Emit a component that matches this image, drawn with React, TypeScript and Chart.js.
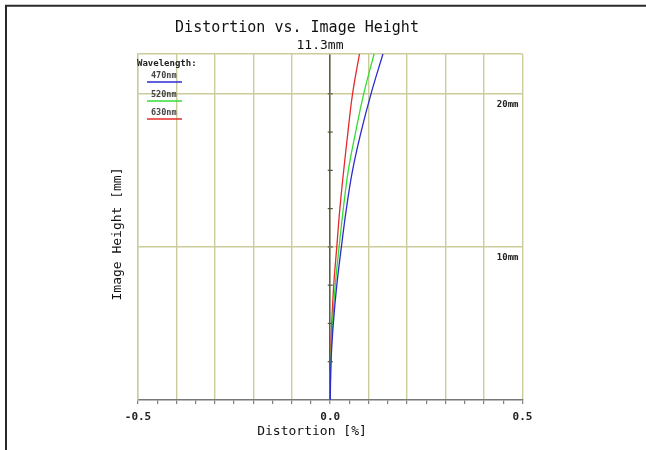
import React, { useEffect, useRef } from "react";
import { Chart, registerables } from "chart.js";

Chart.register(...registerables);

// Image heights (mm) at which distortion was read
const heights = [0, 2.5, 5, 7.5, 10, 12.5, 15, 17.5, 20, 22.6];
// Distortion (%) per wavelength
const dist470 = [0, 0.002, 0.008, 0.017, 0.029, 0.042, 0.058, 0.08, 0.106, 0.137];
const dist520 = [0, 0.0015, 0.006, 0.013, 0.023, 0.034, 0.047, 0.066, 0.087, 0.114];
const dist630 = [0, 0.001, 0.004, 0.009, 0.017, 0.025, 0.035, 0.046, 0.058, 0.076];

const wavelengths = ["470nm", "520nm", "630nm"];
const colors = ["#2b2bd0", "#33dd33", "#e42a2a"];

const xTickValues = [-0.5, 0, 0.5];
const xTickLabels = ["-0.5", "0.0", "0.5"];
const heightMarkValues = [10, 20];
const heightMarkLabels = ["10mm", "20mm"];
const zeroTickValues = [2.5, 5, 7.5, 10, 12.5, 15, 17.5, 20];

const titleText = "Distortion vs. Image Height";
const subtitleText = "11.3mm";
const xTitle = "Distortion [%]";
const yTitle = "Image Height [mm]";
const legendTitle = "Wavelength:";

const MONO = '"DejaVu Sans Mono", "Liberation Mono", monospace';
const GRID = "rgb(203,203,155)";

export default function App() {
  const ref = useRef<HTMLCanvasElement | null>(null);

  useEffect(() => {
    if (!ref.current) return;
    const series = [dist470, dist520, dist630];

    const overlay = {
      id: "overlay",
      beforeDatasetsDraw(chart: any) {
        const c = chart.ctx;
        const xs = chart.scales.x;
        const ys = chart.scales.y;
        const x0 = xs.getPixelForValue(0);
        c.save();
        c.strokeStyle = "#55553c";
        c.lineWidth = 1.2;
        zeroTickValues.forEach((v) => {
          const y = ys.getPixelForValue(v);
          c.beginPath();
          c.moveTo(x0 - 2.5, y);
          c.lineTo(x0 + 2.5, y);
          c.stroke();
        });
        c.restore();
      },
      afterDraw(chart: any) {
        const c = chart.ctx;
        const area = chart.chartArea;
        const ys = chart.scales.y;
        c.save();
        // frame
        c.strokeStyle = "#2a2a2a";
        c.lineWidth = 2;
        c.beginPath();
        c.moveTo(6, 460);
        c.lineTo(6, 5.7);
        c.lineTo(660, 5.7);
        c.stroke();

        c.fillStyle = "#111";
        c.textAlign = "center";
        c.textBaseline = "middle";
        c.font = `15px ${MONO}`;
        c.fillText(titleText, 297, 28);
        c.font = `13px ${MONO}`;
        c.fillText(subtitleText, 320, 45.5);
        c.fillText(xTitle, 312, 432);
        c.save();
        c.translate(118, 234);
        c.rotate(-Math.PI / 2);
        c.fillText(yTitle, 0, 0);
        c.restore();

        // legend
        c.textAlign = "left";
        c.font = `bold 9px ${MONO}`;
        c.fillStyle = "#222";
        c.fillText(legendTitle, 137, 64);
        c.font = `bold 8.5px ${MONO}`;
        const ly = [76, 95, 113];
        wavelengths.forEach((w, i) => {
          c.fillStyle = "#444";
          c.fillText(w, 151, ly[i]);
          c.strokeStyle = colors[i];
          c.lineWidth = 1.5;
          c.beginPath();
          c.moveTo(147, ly[i] + 6);
          c.lineTo(182, ly[i] + 6);
          c.stroke();
        });

        // height marks
        c.textAlign = "right";
        c.font = `bold 9px ${MONO}`;
        c.fillStyle = "#222";
        heightMarkValues.forEach((v, i) => {
          c.fillText(heightMarkLabels[i], area.right - 4, ys.getPixelForValue(v) + 10.5);
        });
        c.restore();
      },
    };

    const chart = new Chart(ref.current, {
      type: "scatter",
      data: {
        datasets: series.map((s, i) => ({
          label: wavelengths[i],
          data: heights.map((h, j) => ({ x: s[j], y: h })),
          showLine: true,
          borderColor: colors[i],
          borderWidth: 1.3,
          pointRadius: 0,
          tension: 0.4,
          fill: false,
        })),
      },
      options: {
        animation: false,
        responsive: false,
        devicePixelRatio: 1,
        layout: { padding: { left: 138, right: 123.5, top: 54, bottom: 18.8 } },
        plugins: {
          legend: { display: false },
          title: { display: false },
          tooltip: { enabled: false },
        },
        scales: {
          x: {
            type: "linear",
            min: -0.5,
            max: 0.5,
            afterBuildTicks(scale: any) {
              const t = [];
              for (let i = 0; i <= 20; i++) t.push({ value: -0.5 + i * 0.05 });
              scale.ticks = t;
            },
            ticks: {
              autoSkip: false,
              maxRotation: 0,
              padding: 7,
              color: "#222",
              font: { family: MONO, size: 11, weight: "bold" },
              callback: (v: any) => {
                const k = xTickValues.findIndex((t) => Math.abs(t - Number(v)) < 1e-6);
                return k >= 0 ? xTickLabels[k] : "";
              },
            },
            grid: {
              drawTicks: true,
              tickLength: 4,
              tickColor: "#666",
              tickWidth: 1,
              lineWidth: (ctx: any) => (ctx.index === 10 ? 1.6 : 1.4),
              color: (ctx: any) => {
                if (ctx.index === 10) return "#5e5e44";
                return ctx.index % 2 === 0 ? GRID : "rgba(0,0,0,0)";
              },
            },
            border: { display: true, color: "#777", width: 1.5 },
          },
          y: {
            type: "linear",
            min: 0,
            max: 22.6,
            ticks: { display: false, stepSize: 10 },
            grid: {
              drawTicks: false,
              lineWidth: 1.4,
              color: (ctx: any) => (ctx.tick && ctx.tick.value > 0 ? GRID : "rgba(0,0,0,0)"),
            },
            border: { display: true, color: GRID, width: 1.4 },
          },
        },
      },
      plugins: [overlay],
    } as any);

    return () => chart.destroy();
  }, []);

  return (
    <div style={{ position: "fixed", left: 0, top: 0, width: 646, height: 450, background: "#fff" }}>
      <canvas ref={ref} width={646} height={450} style={{ display: "block" }} />
    </div>
  );
}
